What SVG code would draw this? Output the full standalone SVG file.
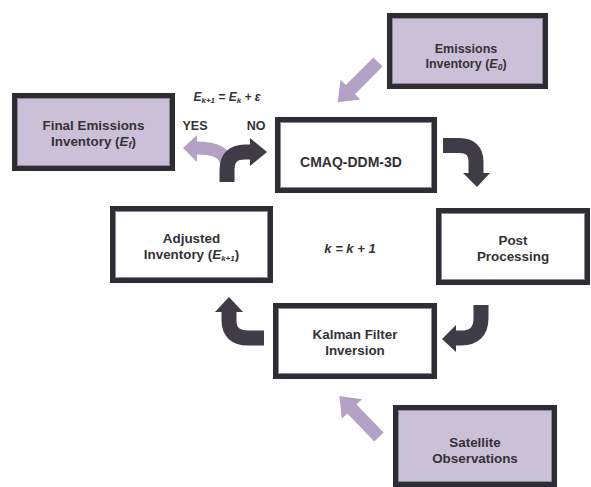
<svg xmlns="http://www.w3.org/2000/svg" width="591" height="487" viewBox="0 0 591 487">
<style>
.box{stroke:#2f2d34;stroke-width:5}
.inner{fill:none;stroke:#8c8992;stroke-width:1}
.purple{fill:#ccc0d9}
.white{fill:#ffffff}
.t{font-family:"Liberation Sans",Arial,sans-serif;font-weight:bold;font-size:13.4px;fill:#333236;text-anchor:middle}
.it{font-style:italic}
.dark{fill:none;stroke:#3f3c47;stroke-width:15}
.darkhead{fill:#3f3c47}
.pale{fill:#b4a1c5}
.paleline{fill:none;stroke:#b4a1c5;stroke-width:13}
</style>
<defs>
<path id="pa" d="M0,-6.5 H39 V-14 L57,0 L39,14 V6.5 H0 Z"/>
</defs>
<rect width="591" height="487" fill="#ffffff"/>

<g id="connectors">
<use href="#pa" class="pale" transform="translate(378,62) rotate(135)"/>
<use href="#pa" class="pale" transform="translate(379,437) rotate(-134)"/>
<path class="dark" d="M443,145.5 H459 Q476,145.5 476,162 V174"/>
<polygon class="darkhead" points="463,173 490,173 477,187"/>
<path class="dark" d="M481,305 V318 Q481,338 461,338 H455"/>
<polygon class="darkhead" points="456,325 456,352 442,339"/>
<path class="dark" d="M264,338 H248 Q229,338 229,320 V311"/>
<polygon class="darkhead" points="215,312 243,312 229,297"/>
<path class="paleline" d="M226,162 Q224,148 196,148"/>
<polygon class="pale" points="197,135 197,162 183,148"/>
<path class="dark" d="M227,182 V170 Q227,152 245,152 H251"/>
<polygon class="darkhead" points="250,138 250,166 267,152"/>
</g>

<g id="emissions-inventory">
<rect class="box purple" x="389.5" y="15.5" width="156" height="71"/>
<rect class="inner" x="392.5" y="18.5" width="150" height="65"/>
<text class="t" x="466" y="53" style="font-size:12.5px">Emissions</text>
<text class="t" x="466" y="68" style="font-size:12.5px">Inventory (<tspan class="it">E</tspan><tspan class="it" font-size="8.5" dy="2">0</tspan><tspan dy="-2">)</tspan></text>
</g>

<g id="final-emissions-inventory">
<rect class="box purple" x="14.5" y="95.5" width="158" height="73"/>
<rect class="inner" x="17.5" y="98.5" width="152" height="67"/>
<text class="t" x="93.5" y="130">Final Emissions</text>
<text class="t" x="93.5" y="146">Inventory (<tspan class="it">E</tspan><tspan class="it" font-size="9" dy="2">f</tspan><tspan dy="-2">)</tspan></text>
</g>

<g id="cmaq">
<rect class="box white" x="277.5" y="119.5" width="157" height="71"/>
<rect class="inner" x="280.5" y="122.5" width="151" height="65"/>
<text class="t" x="351" y="167" style="font-size:14px">CMAQ-DDM-3D</text>
</g>

<g id="adjusted-inventory">
<rect class="box white" x="112.5" y="208.5" width="158" height="72"/>
<rect class="inner" x="115.5" y="211.5" width="152" height="66"/>
<text class="t" x="191.5" y="243">Adjusted</text>
<text class="t" x="191.5" y="259">Inventory (<tspan class="it">E</tspan><tspan class="it" font-size="8" dy="2">k+1</tspan><tspan dy="-2">)</tspan></text>
</g>

<g id="post-processing">
<rect class="box white" x="438.5" y="210.5" width="149" height="72"/>
<rect class="inner" x="441.5" y="213.5" width="143" height="66"/>
<text class="t" x="513" y="245">Post</text>
<text class="t" x="513" y="261">Processing</text>
</g>

<g id="kalman-filter">
<rect class="box white" x="275.5" y="305.5" width="159" height="71"/>
<rect class="inner" x="278.5" y="308.5" width="153" height="65"/>
<text class="t" x="355" y="339">Kalman Filter</text>
<text class="t" x="355" y="355">Inversion</text>
</g>

<g id="satellite-observations">
<rect class="box purple" x="395.5" y="407.5" width="159" height="77"/>
<rect class="inner" x="398.5" y="410.5" width="153" height="71"/>
<text class="t" x="475" y="447">Satellite</text>
<text class="t" x="475" y="463">Observations</text>
</g>

<g id="labels">
<text class="t it" x="227" y="101" style="font-size:12px">E<tspan font-size="8" dy="2">k+1</tspan><tspan dy="-2"> = E</tspan><tspan font-size="8" dy="2">k</tspan><tspan dy="-2"> + ε</tspan></text>
<text class="t" x="195" y="130" style="font-size:12.5px">YES</text>
<text class="t" x="256" y="130" style="font-size:12.5px">NO</text>
<text class="t it" x="350" y="253" style="font-size:13px">k = k + 1</text>
</g>
</svg>
